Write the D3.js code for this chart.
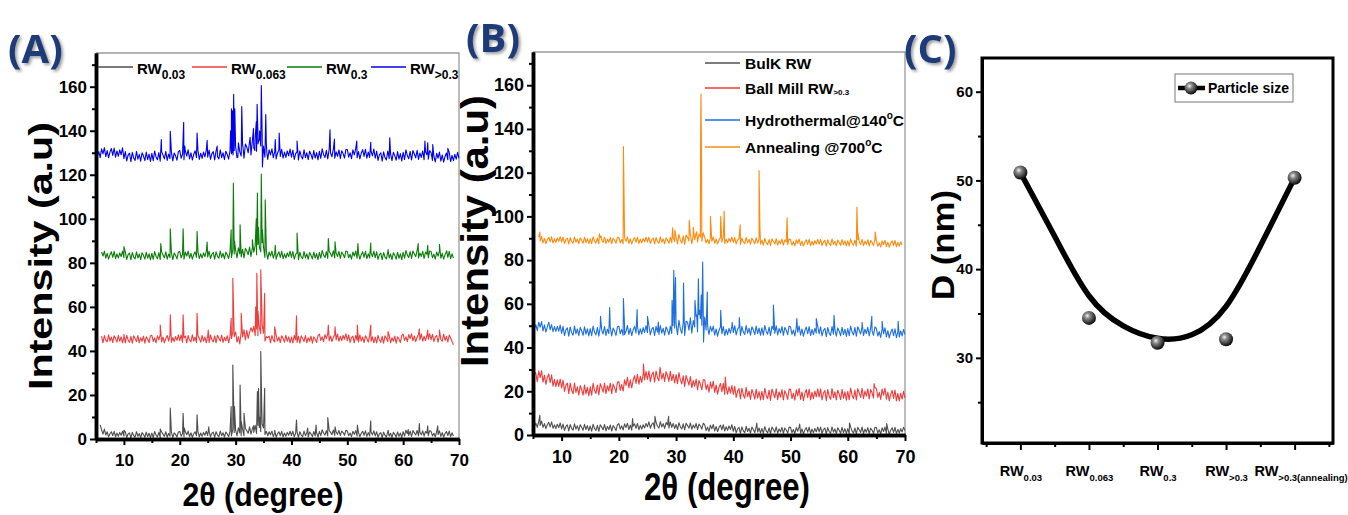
<!DOCTYPE html>
<html>
<head>
<meta charset="utf-8">
<script src="https://cdn.jsdelivr.net/npm/d3@7"></script>
<style>
body { margin: 0; background: #fff; }
svg { display: block; font-family: "Liberation Sans", Arial, sans-serif; font-weight: bold; }
</style>
</head>
<body>
<svg id="chart" width="1348" height="515"></svg>
<script>
// 2-theta grid for the baseline arrays (5 .. 70 deg, every 0.25 deg, one row = 5 deg)
const twoTheta = d3.range(5, 70.001, 0.25);

// ---------- panel (A) : sieved fractions ----------
const rw003Base = [
  null,null,null,6.4,4.2,2.2,4.5,1.8,3.3,1,2.4,3.3,1.5,3.5,1,2.7,1.2,3,1.7,3.5,
  1.3,3.2,0.7,2.3,2.8,0.5,3,1.5,0.8,3.3,1.2,2.5,0.6,2.9,2,0.8,3.1,1.1,2.6,0.6,
  2.7,0.7,3.4,1.8,1,3,0.6,3.2,2.2,1.2,3.3,0.8,2.5,1.3,3.1,0.7,2.8,2.1,0.9,3.2,
  3.4,1.3,2.5,0.9,3.3,1.9,3.6,1.1,2.8,0.8,2.4,3.3,1.5,3.5,1,2.7,1.2,3,1.7,3.5,
  1.6,3.5,1,2.6,3.1,0.8,3.3,1.8,1.1,3.6,1.5,2.8,0.9,3.2,2.3,1.1,3.4,1.4,4.5,3,
  4,1.5,5.1,2.7,1.5,4.5,1.5,4.8,3.8,2.6,5.5,2.2,4.7,3,6.2,2.5,6.2,5.2,3.4,6.8,
  5,2,3.5,1.5,3.3,1.9,3.6,1.1,2.8,0.8,2.4,3.3,1.5,3.5,1,2.7,1.2,3,1.7,3.5,
  1.6,3.5,1,2.6,3.1,0.8,3.3,1.8,1.1,3.6,1.5,2.8,0.9,3.2,2.3,1.1,3.4,1.4,2.9,0.9,
  3.5,1.5,4.2,2.6,1.8,3.8,1.4,4,3,2,4.1,1.6,3.3,2.1,3.9,1.5,3.6,2.9,1.7,4,
  3.6,1.5,2.7,1.1,3.5,2.1,3.8,1.3,3,1,2.6,3.5,1.7,3.7,1.2,2.9,1.4,3.2,1.9,3.7,
  1.4,3.3,0.8,2.4,2.9,0.6,3.1,1.6,0.9,3.4,1.3,2.6,0.7,3,2.1,0.9,3.2,1.2,2.7,0.7,
  3.3,1.3,4,2.4,1.6,3.6,1.2,3.8,2.8,1.8,3.9,1.4,3.1,1.9,3.7,1.3,3.4,2.7,1.5,3.8,
  3.5,1.4,2.6,1,3.4,2,3.7,1.2,2.9,0.9,2.5,3.4,1.6,3.6,1.1,2.8,1.3,null,null,null,
  null];
const rw003Peaks = [[10,4],[16.5,4.5],[18.3,14],[20.6,11.7],[20.8,5],[23.1,11],[25.2,5.5],[29.2,14.7],[29.5,33.6],[29.8,14.7],
  [30.8,24.5],[31,8],[31.5,11.7],[33.2,6],[33.9,21.5],[34.1,23],[34.3,10],[34.5,39.7],[34.7,12],[35.2,23],[37,4],
  [40.9,8.6],[42.9,5],[44.4,6.3],[46.5,9.7],[47.8,5.5],[51.8,6.3],[54.2,8.3],[57.3,4],[60.9,4.3],[62.9,7],[64.4,6],[66.2,6]];

const rw0063Base = [
  null,null,null,null,46.7,43.7,47,44.9,44.1,47.3,44.5,46.3,43.8,46.9,45.7,44,47.1,44.4,46.4,43.7,
  46.3,43.6,47.1,45,43.9,46.6,43.5,46.9,45.6,44.3,47,43.7,46,44.4,46.7,43.5,46.4,45.4,43.8,46.9,
  47.1,44.3,45.9,43.7,46.9,45.1,47.3,44.1,46.3,43.7,45.7,47,44.5,47.2,43.9,46.1,44.2,46.5,44.8,47.3,
  44.7,47.3,43.9,46,46.7,43.7,47,44.9,44.1,47.3,44.5,46.3,43.8,46.9,45.7,44,47.1,44.4,46.4,43.7,
  46.5,43.8,47.3,45.2,44.1,46.8,43.7,47.1,45.8,44.5,47.2,43.9,46.2,44.6,46.9,43.7,46.6,45.6,48.5,46.5,
  48.6,44,46.5,43.2,48.8,46.3,49.6,45,49.3,45.7,48.4,50.5,48.7,51.2,46.9,50,46.9,50.7,47.8,51.9,
  48,44.5,46.5,46,46.7,43.7,47,44.9,44.1,47.3,44.5,46.3,43.8,46.9,45.7,44,47.1,44.4,46.4,43.7,
  46.3,43.6,47.1,45,43.9,46.6,43.5,46.9,45.6,44.3,47,43.7,46,44.4,46.7,43.5,46.4,45.4,43.8,46.9,
  47.6,44.8,46.4,44.2,47.4,45.6,47.8,44.6,46.8,44.2,46.2,47.5,45,47.7,44.4,46.6,44.7,47,45.3,47.8,
  44.7,47.3,43.9,46,46.7,43.7,47,44.9,44.1,47.3,44.5,46.3,43.8,46.9,45.7,44,47.1,44.4,46.4,43.7,
  46.3,43.6,47.1,45,43.9,46.6,43.5,46.9,45.6,44.3,47,43.7,46,44.4,46.7,43.5,46.4,45.4,43.8,46.9,
  47.6,44.8,46.4,44.2,47.4,45.6,47.8,44.6,46.8,44.2,46.2,47.5,45,47.7,44.4,46.6,44.7,47,45.3,47.8,
  45,47.6,44.2,46.3,47,44,47.3,45.2,44.4,47.6,44.8,46.6,44.1,47.2,46,44.3,42.8,null,null,null,
  null];
const rw0063Peaks = [[10,47.5],[16.5,51.8],[18.3,56.4],[20.6,56.4],[23.1,57.1],[25.1,49.5],[29.2,54.8],[29.5,73],[29.7,52],
  [31,57.1],[33.1,49.5],[33.6,60],[33.8,75.3],[34,58],[34.5,76.8],[34.7,58],[35.2,66.2],[37,51],[40.9,55.9],
  [46.6,51.8],[47.8,51],[51.8,51.8],[54.2,51.8],[57.3,48.8],[62.9,50],[64.4,49.5],[66.5,49.5]];

const rw03Base = [
  null,null,null,null,84.9,83.1,85.3,82.1,84.3,81.7,83.7,85,82.5,85.2,81.9,84.1,82.2,84.5,82.8,85.3,
  82.4,85,81.6,83.7,84.4,81.4,84.7,82.6,81.8,85,82.2,84,81.5,84.6,83.4,81.7,84.8,82.1,84.1,81.4,
  84.3,81.6,85.1,83,81.9,84.6,81.5,84.9,83.6,82.3,85,81.7,84,82.4,84.7,81.5,84.4,83.4,81.8,84.9,
  85.1,82.3,83.9,81.7,84.9,83.1,85.3,82.1,84.3,81.7,83.7,85,82.5,85.2,81.9,84.1,82.2,84.5,82.8,85.3,
  82.7,85.3,81.9,84,84.7,81.7,85,82.9,82.1,85.3,82.5,84.3,81.8,84.9,83.7,82,85.1,82.4,86,84,
  85.8,82.3,86.8,84.1,82.7,86.2,82.2,86.6,85.4,83.7,87.2,82.9,86.9,84.8,87.8,83.7,88.4,87.1,85,89.1,
  87,82.5,85.5,81.7,84.9,83.1,85.3,82.1,84.3,81.7,83.7,85,82.5,85.2,81.9,84.1,82.2,84.5,82.8,85.3,
  82.5,85.1,81.7,83.8,84.5,81.5,84.8,82.7,81.9,85.1,82.3,84.1,81.6,84.7,83.5,81.8,84.9,82.2,84.2,81.5,
  84.8,82.1,85.6,83.5,82.4,85.1,82,85.4,84.1,82.8,85.5,82.2,84.5,82.9,85.2,82,84.9,83.9,82.3,85.4,
  85.1,82.3,83.9,81.7,84.9,83.1,85.3,82.1,84.3,81.7,83.7,85,82.5,85.2,81.9,84.1,82.2,84.5,82.8,85.3,
  82.4,85,81.6,83.7,84.4,81.4,84.7,82.6,81.8,85,82.2,84,81.5,84.6,83.4,81.7,84.8,82.1,84.1,81.4,
  84.8,82.1,85.6,83.5,82.4,85.1,82,85.4,84.1,82.8,85.5,82.2,84.5,82.9,85.2,82,84.9,83.9,82.3,85.4,
  85.1,82.3,83.9,81.7,84.9,83.1,85.3,82.1,84.3,81.7,83.7,85,82.5,85.2,81.9,84.1,82.2,null,null,null,
  null];
const rw03Peaks = [[10,87.4],[16.6,88.8],[18.3,95.5],[20.6,95.5],[23.1,94.2],[24.9,89.4],[29.2,95],[29.6,116.2],[29.8,90],
  [30.8,97.3],[33,90.5],[33.7,100],[33.9,111.7],[34.1,96],[34.6,120.3],[34.8,95],[35.3,108.6],[37.1,88],[41,93.5],
  [46.6,91],[47.8,89.6],[51.9,88.8],[54.2,89],[57.3,86],[62.7,88.8],[64.4,88],[66.5,88.4],[67.8,85.5]];

const rwGt03Base = [
  125,128.5,130.5,127.8,131.8,129.5,132.3,128.2,131,127.7,130.3,131.9,128.8,132.1,128,130.8,128.4,131.3,129.1,132.2,
  127.3,130.5,126.3,128.9,129.8,126,130.2,127.6,126.5,130.6,127.1,129.3,126.2,130,128.5,126.4,130.3,126.9,129.4,126.1,
  129.7,126.4,130.8,128.1,126.8,130.1,126.2,130.5,128.9,127.2,130.6,126.5,129.4,127.4,130.3,126.3,129.9,128.6,126.6,130.5,
  131,127.5,129.5,126.8,130.8,128.5,131.3,127.2,130,126.7,129.3,130.9,127.8,131.1,127,129.8,127.4,130.3,128.1,131.2,
  128,131.2,127,129.6,130.5,126.7,130.9,128.3,127.2,131.3,127.8,130,126.9,130.7,129.2,127.1,131,129.6,135,132,
  132.8,127.8,134.5,130.4,128.5,133.4,127.5,134,132.6,130,135.2,129,135.4,132.3,136.7,130.7,138.1,136.2,133.1,139,
  133,128,134,127,131.3,129,131.8,127.7,130.5,127.2,129.8,131.4,128.3,131.6,127.5,130.3,127.9,130.8,128.6,131.7,
  128,131.2,127,129.6,130.5,126.7,130.9,128.3,127.2,131.3,127.8,130,126.9,130.7,129.2,127.1,131,127.6,130.1,126.8,
  130.7,127.4,131.8,129.1,127.8,131.1,127.2,131.5,129.9,128.2,131.6,127.5,130.4,128.4,131.3,127.3,130.9,129.6,127.6,131.5,
  131.5,128,130,127.3,131.3,129,131.8,127.7,130.5,127.2,129.8,131.4,128.3,131.6,127.5,130.3,127.9,130.8,128.6,131.7,
  127.5,130.7,126.5,129.1,130,126.2,130.4,127.8,126.7,130.8,127.3,129.5,126.4,130.2,128.7,126.6,130.5,127.1,129.6,126.3,
  130.2,126.9,131.3,128.6,127.3,130.6,126.7,131,129.4,127.7,131.1,127,129.9,127.9,130.8,126.8,130.4,129.1,127.1,131,
  130,126.5,128.5,125.8,129.8,127.5,130.3,126.2,129,125.7,128.3,129.9,126.8,130.1,126,128.8,126.4,129.3,127.1,130.2,
  127.5];
const rwGt03Peaks = [[16.7,136],[18.3,139.7],[20.7,143.8],[20.9,133],[23.1,139],[24.9,135.6],[26.7,133],
  [29.1,140],[29.25,150],[29.35,130],[29.45,149],[29.55,129],[29.65,156.5],[29.75,131],[29.85,150],[30.4,128],
  [31.1,151],[31.3,133],[32.6,137],[33.2,141],[33.45,131],[33.7,144],[33.85,152],[34,134],[34.3,140],[34.6,160.5],
  [34.8,123.5],[35.4,147.3],[35.6,130],[37.1,136],[37.8,139],[41,135.3],[46.9,140.4],[47.7,136.2],[51.7,135.3],
  [54.2,134.8],[57.6,136.8],[63.9,135.3],[64.4,134.5],[65.3,133.7],[68,132]];

// ---------- panel (B) : processing steps ----------
const bulkBase = [
  8,3.9,5.4,3.5,6.1,4.4,6.4,3.5,5.2,2.9,4.7,5.8,3.7,6,3.1,4.6,2.9,4.9,3.4,5.5,
  2.8,5,2.1,3.9,4.6,1.9,4.8,3,2.2,5.1,2.7,4.2,2,4.7,3.6,2.2,4.9,2.5,4.3,2,
  4.1,1.8,4.9,3,2.1,4.4,1.7,4.7,3.6,2.4,4.8,1.9,3.9,2.5,4.6,1.8,4.3,3.4,2,4.7,
  5.2,2.7,4.2,2.3,5.1,3.4,5.4,2.5,4.5,2.2,4,5.1,3,5.3,2.4,4.4,2.7,4.7,3.2,5.3,
  3.8,6,3.1,4.9,5.6,2.9,5.8,4,3.2,6.1,3.7,5.2,3,5.7,4.6,3.2,5.9,3.5,5.3,3,
  4.8,2.5,5.6,3.7,2.8,5.1,2.4,5.4,4.3,3.1,5.5,2.6,4.6,3.2,5.3,2.5,5,4.1,2.7,5.4,
  4.6,2.1,3.6,1.7,4.5,2.8,4.8,1.9,3.9,1.6,3.4,4.5,2.4,4.7,1.8,3.8,2.1,4.1,2.6,4.7,
  1.7,3.9,1,2.8,3.5,0.8,3.7,1.9,1.1,4,1.6,3.1,0.9,3.6,2.5,1.1,3.8,1.4,3.2,0.9,
  3,0.7,3.8,1.9,1,3.3,0.6,3.6,2.5,1.3,3.7,0.8,2.8,1.4,3.5,0.7,3.2,2.3,0.9,3.6,
  3.5,1,2.5,0.6,3.4,1.7,3.7,0.8,2.8,0.5,2.3,3.4,1.3,3.6,0.7,2.7,1,3,1.5,3.6,
  1.4,3.6,0.7,2.5,3.2,0.5,3.4,1.6,0.8,3.7,1.3,2.8,0.6,3.3,2.2,0.8,3.5,1.1,2.9,0.6,
  2.9,0.6,3.7,1.8,0.9,3.2,0.5,3.5,2.4,1.2,3.6,0.7,2.7,1.3,3.4,0.6,3.1,2.2,0.8,3.5,
  3.4,0.9,2.4,0.5,3.3,1.6,3.6,0.7,2.7,0.4,2.2,3.3,1.2,3.5,0.6,2.6,0.9,2.9,1.4,3.5,
  2];
const bulkPeaks = [[6.2,9],[22.4,7.5],[26.3,8.5],[28.7,8.5],[44.1,5.5],[51.6,5],[60.3,5.5],[66.8,5.2]];

const ballMillBase = [
  35,29,28.1,24.4,29.2,26.2,29.4,24.2,27.4,23.2,26.2,27.9,23.9,27.5,22.3,25.4,22.1,25.2,22.2,25.6,
  21.5,25.1,19.9,22.8,23.7,18.9,23.8,20.5,18.9,23.8,19.5,22,18.2,22.6,20.7,18.2,22.9,18.8,21.8,17.9,
  22,18.2,23.6,20.4,19,22.9,18.3,23.5,21.7,19.6,23.8,18.9,22.5,20.1,23.7,18.9,23.3,21.7,19.4,24.2,
  24.4,20.4,23.1,20.1,25.2,22.7,26.4,21.6,25.2,21.5,25,27.1,23.6,27.8,23.2,26.8,24.1,27.8,25.2,29.1,
  25.4,29.3,24.4,27.6,28.8,24.2,29.3,26.2,24.8,29.8,25.6,28.2,24.5,29,27.1,24.5,29.1,24.9,27.8,23.8,
  27.6,23.5,28.6,25.1,23.4,27.1,22.2,27.2,25.1,22.8,26.7,21.6,24.9,22.3,25.6,20.7,24.9,23.2,20.7,25.3,
  25.2,20.8,23,19.6,24.2,21.3,24.6,19.5,22.8,18.7,21.8,23.6,19.8,23.6,18.6,21.8,18.7,22,19.1,22.6,
  18.6,22.3,17.2,20.2,21.2,16.5,21.5,18.3,16.8,21.8,17.5,20.1,16.3,20.8,18.9,16.4,21,16.9,19.9,16,
  20,16.1,21.4,18.1,16.6,20.5,15.8,21,19.1,17,21.1,16.2,19.7,17.3,20.8,16,20.3,18.7,16.3,21,
  20.9,16.7,19.1,15.9,20.7,17.9,21.3,16.3,19.7,15.7,18.9,20.8,17.1,21,16.1,19.5,16.6,20.1,17.4,21.1,
  17.3,21.1,16.1,19.2,20.3,15.7,20.8,17.7,16.3,21.3,17.1,19.7,16,20.5,18.7,16.2,20.9,16.8,19.8,15.9,
  20,16.1,21.5,18.2,16.7,20.6,16,21.2,19.3,17.2,21.4,16.6,20.1,17.8,21.1,16.5,20.8,19.3,16.9,21.6,
  21.4,17.2,19.5,16.3,21,18.2,21.4,16.4,19.6,15.6,18.6,20.4,16.7,20.6,15.6,19,15.6,19.1,16.4,20,
  17];
const ballMillPeaks = [[24.3,32.5],[27.2,31],[38.6,26.5],[64.6,23.5]];

const hydroBase = [
  52,48.4,50.4,47.7,51.6,49.3,51.9,47.6,50.4,47.1,49.5,51.6,48.2,50.5,47.3,49.6,47.4,49.7,47.5,50.3,
  46.5,49.7,45.5,48.1,49,45.2,49.4,46.8,45.7,49.8,46.3,48.5,45.4,49.2,47.7,45.6,49.5,46.1,48.6,45.3,
  48.7,45.4,49.8,47.1,45.8,49.1,45.2,49.5,47.9,46.2,49.6,45.5,48.4,46.4,49.3,45.3,48.9,47.6,45.6,49.5,
  49.8,46.3,48.3,45.6,49.6,47.3,50.1,46,48.8,45.5,48.1,49.7,46.6,49.9,45.8,48.6,46.2,49.1,46.9,50,
  46.8,50,45.8,48.4,49.3,45.5,49.7,47.1,46,50.1,46.6,48.8,45.7,49.5,48,45.9,49.8,46.4,52,49,
  50.8,45.9,52.5,48.4,46.5,51.4,45.5,52,51.6,48,53.6,46.6,52.4,49.4,54.2,47.2,55.1,53.2,50.2,56,
  54,48,51,46,49.7,47.4,49.8,45.7,48.5,45.2,47.8,49.4,46.3,49.6,45.5,48.3,45.9,48.8,46.6,49.7,
  46.8,50,45.8,48.4,49.3,45.5,49.7,47.1,46,50.1,46.6,48.8,45.7,49.5,48,45.9,49.8,46.4,48.9,45.6,
  49,45.7,50.1,47.4,46.1,49.4,45.5,49.8,48.2,46.5,49.9,45.8,48.7,46.7,49.6,45.6,49.2,47.9,45.9,49.8,
  49.5,46,48,45.3,49.3,47,49.8,45.7,48.5,45.2,47.8,49.4,46.3,49.6,45.5,48.3,45.9,48.8,46.6,49.7,
  46.3,49.5,45.3,47.9,48.8,45,49.2,46.6,45.5,49.6,46.1,48.3,45.2,49,47.5,45.4,49.3,45.9,48.4,45.1,
  48.7,45.4,49.8,47.1,45.8,49.1,45.2,49.5,47.9,46.2,49.6,45.5,48.4,46.4,49.3,45.3,48.9,47.6,45.6,49.5,
  48.8,45.3,47.3,44.6,48.6,46.3,49,44.9,47.7,44.4,46.9,48.5,45.4,48.6,44.5,47.2,44.8,47.6,45.3,48.3,
  46];
const hydroPeaks = [[16.8,54.3],[18.4,58.3],[20.8,62.4],[21,46],[23.2,57.4],[25,54.3],[26.9,51.7],[29.3,61.6],[29.45,50],
  [29.6,75.3],[29.75,52],[29.9,72],[31.3,69.5],[31.45,50],[33.3,61.6],[33.6,55],[33.9,71.5],[34.1,57],[34.4,64],
  [34.65,79.1],[34.8,42.6],[35.45,65.4],[35.6,48],[37.8,57],[39.8,51.5],[41.05,53.7],[47,59.4],[47.2,50],[51.1,53.3],
  [54.5,53.3],[57.6,54.8],[62.5,51.5],[64.2,54.3],[66,52],[68.8,52]];

const annealBase = [
  null,null,null,null,90.5,88.8,90.8,87.9,89.9,87.6,89.4,90.5,88.4,90.7,87.8,89.8,88.1,90.1,88.6,90.7,
  88.3,90.5,87.6,89.4,90.1,87.4,90.3,88.5,87.7,90.6,88.2,89.7,87.5,90.2,89.1,87.7,90.4,88,89.8,87.5,
  89.8,87.5,90.6,88.7,87.8,90.1,87.4,90.4,89.3,88.1,90.5,87.6,89.6,88.2,90.3,87.5,90,89.1,87.7,90.4,
  90.4,87.9,89.4,87.5,90.3,88.6,90.6,87.7,89.7,87.4,89.2,90.3,88.2,90.5,87.6,89.6,87.9,89.9,88.4,90.5,
  88.3,90.5,87.6,89.4,90.1,87.4,90.3,88.5,87.7,90.6,88.2,89.7,87.5,90.2,89.1,87.7,90.4,88,90.5,88.5,
  90.7,87.4,91.8,89.1,87.8,91.1,87.2,91.5,90.4,88.7,91.6,87.5,91.4,89.4,92.3,88.3,91.9,90.6,88.6,92.5,
  90.4,87.9,89.4,87.5,90.3,88.6,90.6,87.7,89.7,87.4,89.2,90.3,88.2,90.5,87.6,89.6,87.9,89.9,88.4,90.5,
  88.1,90.3,87.4,89.2,89.9,87.2,90.1,88.3,87.5,90.4,88,89.5,87.3,90,88.9,87.5,90.2,87.8,89.6,87.3,
  89.1,86.8,89.9,88,87.1,89.4,86.7,89.7,88.6,87.4,89.8,86.9,88.9,87.5,89.6,86.8,89.3,88.4,87,89.7,
  89.4,86.9,88.4,86.5,89.3,87.6,89.6,86.7,88.7,86.4,88.2,89.3,87.2,89.5,86.6,88.6,86.9,88.9,87.4,89.5,
  87.3,89.5,86.6,88.4,89.1,86.4,89.3,87.5,86.7,89.6,87.2,88.7,86.5,89.2,88.1,86.7,89.4,87,88.8,86.5,
  88.8,86.5,89.6,87.7,86.8,89.1,86.4,89.4,88.3,87.1,89.5,86.6,88.6,87.2,89.3,86.5,89,88.1,86.7,89.4,
  88.9,86.4,87.9,86,88.8,87.1,89.1,86.2,88.2,85.9,87.7,88.8,86.7,89,86.1,88.1,86.4,88.4,86.9,null,
  null];
const annealPeaks = [[6.2,92.8],[16.6,92],[16.9,91],[20.8,132],[29.4,94.8],[29.8,93.6],[32.3,98.2],[32.5,92],[33,95],
  [33.6,93],[34.3,140],[34.35,156],[34.45,125],[36,100],[37.8,100],[38.4,102.4],[41.2,96.2],[44.5,121],[44.65,95],
  [49.4,99.4],[61.6,104.3],[61.75,93],[64.8,92.8]];

// ---------- panel (C) : particle size ----------
const sampleNames = [["RW", "0.03"], ["RW", "0.063"], ["RW", "0.3"], ["RW", ">0.3"], ["RW", ">0.3(annealing)"]];
const particleSize = [50.9, 34.5, 31.7, 32.1, 50.3];
// smooth fit
const fitPos = [0, 0.5, 1, 1.5, 2, 2.5, 3, 3.5, 4];
const fitSize = [50.9, 43.7, 37.0, 33.6, 32.2, 32.6, 35.8, 42.6, 50.3];

const xrdTicks = [10, 20, 30, 40, 50, 60, 70];
const xrdMinor = [5, 15, 25, 35, 45, 55, 65];
const intTicks = [0, 20, 40, 60, 80, 100, 120, 140, 160];
const intMinor = [10, 30, 50, 70, 90, 110, 130, 150, 170];

const svg = d3.select("#chart");

const defs = svg.append("defs");
const grad = defs.append("radialGradient").attr("id", "ball").attr("cx", "38%").attr("cy", "35%").attr("r", "65%");
grad.append("stop").attr("offset", "0%").attr("stop-color", "#f4f4f4");
grad.append("stop").attr("offset", "30%").attr("stop-color", "#8a8a8a");
grad.append("stop").attr("offset", "100%").attr("stop-color", "#0a0a0a");
defs.append("filter").attr("id", "shadow").attr("x", "-20%").attr("y", "-20%").attr("width", "150%").attr("height", "150%")
  .append("feDropShadow").attr("dx", 2).attr("dy", 2).attr("stdDeviation", 1.5).attr("flood-color", "#777").attr("flood-opacity", 0.7);

function merge(base, peaks) {
  const pts = [];
  base.forEach((v, i) => { if (v != null) pts.push([twoTheta[i], v]); });
  peaks.forEach(p => pts.push(p));
  return pts.sort((a, b) => a[0] - b[0]);
}

function axisStyle(g, fs, lw) {
  g.select(".domain").attr("stroke", "#000").attr("stroke-width", lw || 3.5);
  g.selectAll(".tick line").attr("stroke", "#000").attr("stroke-width", 2);
  g.selectAll(".tick text").attr("fill", "#000").attr("font-size", fs || 17).attr("font-weight", "bold")
    .attr("font-family", '"Liberation Sans", Arial, sans-serif');
}

function panelLabel(txt, x, y) {
  svg.append("text").attr("x", x).attr("y", y).text(txt)
    .attr("font-family", '"Open Sans", "Liberation Sans", Arial, sans-serif')
    .attr("font-size", 40).attr("font-weight", "bold").attr("fill", "#1d3a78").attr("filter", "url(#shadow)");
}

function subText(g, x, y, main, sub, fs, sfs, anchor) {
  const t = g.append("text").attr("x", x).attr("y", y).attr("font-size", fs).attr("text-anchor", anchor || "start");
  t.append("tspan").text(main);
  t.append("tspan").text(sub).attr("font-size", sfs).attr("dy", fs * 0.3);
  return t;
}

function xrdPanel(p) {
  const x = d3.scaleLinear().domain([5, 70]).range([p.left, p.right]);
  const y = d3.scaleLinear().domain([0, p.yMax]).range([p.bottom, p.top]);
  const g = svg.append("g");

  g.append("path").attr("d", `M${p.left},${p.top}H${p.right}V${p.bottom}`)
    .attr("fill", "none").attr("stroke", "#9a9a9a").attr("stroke-width", 1.3);

  const line = d3.line().x(d => x(d[0])).y(d => y(d[1]));
  p.series.forEach(s => {
    g.append("path").datum(s.points).attr("d", line)
      .attr("fill", "none").attr("stroke", s.color).attr("stroke-width", 1.1).attr("stroke-linejoin", "round");
  });

  g.append("g").attr("transform", `translate(0,${p.bottom})`)
    .call(d3.axisBottom(x).tickValues(xrdMinor).tickSize(4).tickSizeOuter(0).tickFormat(""))
    .call(axisStyle);
  g.append("g").attr("transform", `translate(0,${p.bottom})`)
    .call(d3.axisBottom(x).tickValues(xrdTicks).tickSize(6).tickSizeOuter(0).tickPadding(9))
    .call(axisStyle, p.tickFs);
  g.append("g").attr("transform", `translate(${p.left},0)`)
    .call(d3.axisLeft(y).tickValues(intMinor.filter(v => v < p.yMax)).tickSize(4).tickSizeOuter(0).tickFormat(""))
    .call(axisStyle);
  g.append("g").attr("transform", `translate(${p.left},0)`)
    .call(d3.axisLeft(y).tickValues(intTicks).tickSize(6).tickSizeOuter(0).tickPadding(3))
    .call(axisStyle, p.tickFs);

  g.append("text").text("Intensity (a.u)")
    .attr("transform", `translate(${p.yTitleX},${p.yTitleY}) rotate(-90)`)
    .attr("text-anchor", "middle")
    .attr("font-size", p.yTitleFs).attr("textLength", p.yTitleLen).attr("lengthAdjust", "spacingAndGlyphs");
  g.append("text").text("2\u03b8 (degree)")
    .attr("x", p.xTitleX).attr("y", p.xTitleY).attr("text-anchor", "middle")
    .attr("font-size", p.xTitleFs).attr("textLength", p.xTitleLen).attr("lengthAdjust", "spacingAndGlyphs");
  return g;
}

// ---- (A)
const seriesA = [
  { points: merge(rw003Base, rw003Peaks), color: "#4d4d4d" },
  { points: merge(rw0063Base, rw0063Peaks), color: "#f03c3c" },
  { points: merge(rw03Base, rw03Peaks), color: "#0a7d0a" },
  { points: merge(rwGt03Base, rwGt03Peaks), color: "#0000f0" }
];
const gA = xrdPanel({ left: 96, right: 459, top: 53, bottom: 439, yMax: 175.3, series: seriesA, tickFs: 17,
  yTitleX: 52, yTitleY: 256, yTitleFs: 34, yTitleLen: 268, xTitleX: 263, xTitleY: 506, xTitleFs: 34, xTitleLen: 161 });

const legA = [["RW", "0.03"], ["RW", "0.063"], ["RW", "0.3"], ["RW", ">0.3"]];
const legAx = [98, 192, 287, 371];
legA.forEach((d, i) => {
  gA.append("line").attr("x1", legAx[i]).attr("x2", legAx[i] + 35).attr("y1", 67).attr("y2", 67)
    .attr("stroke", seriesA[i].color).attr("stroke-width", 1.4);
  subText(gA, legAx[i] + 39, 74, d[0], d[1], 15, 12);
});
panelLabel("(A)", 8, 63);

// ---- (B)
const seriesB = [
  { points: merge(bulkBase, bulkPeaks), color: "#505050", name: "BulK RW" },
  { points: merge(ballMillBase, ballMillPeaks), color: "#f23a3a", name: "Ball Mill RW" },
  { points: merge(hydroBase, hydroPeaks), color: "#1c6fe0", name: "Hydrothermal@140" },
  { points: merge(annealBase, annealPeaks), color: "#ff8a0c", name: "Annealing @700" }
];
const gB = xrdPanel({ left: 533, right: 905, top: 52, bottom: 435, yMax: 175.2, series: seriesB, tickFs: 18,
  yTitleX: 488, yTitleY: 231, yTitleFs: 38, yTitleLen: 272, xTitleX: 727, xTitleY: 500, xTitleFs: 38, xTitleLen: 166 });

const legBy = [63, 88, 120, 147];
seriesB.forEach((s, i) => {
  gB.append("line").attr("x1", 705).attr("x2", 740).attr("y1", legBy[i]).attr("y2", legBy[i])
    .attr("stroke", s.color).attr("stroke-width", 1.6);
  const t = gB.append("text").attr("x", 745).attr("y", legBy[i] + 6).attr("font-size", 15.5);
  t.append("tspan").text(s.name);
  if (i === 1) t.append("tspan").text(">0.3").attr("font-size", 8).attr("dy", 1);
  if (i >= 2) {
    t.append("tspan").text("o").attr("font-size", 10).attr("dy", -7);
    t.append("tspan").text("C").attr("dy", 7);
  }
});
panelLabel("(B)", 466, 52);

// ---- (C)
const pc = { left: 982, right: 1333, top: 58, bottom: 443 };
const xc = d3.scaleLinear().domain([-0.56, 4.56]).range([pc.left, pc.right]);
const yc = d3.scaleLinear().domain([20.4, 63.8]).range([pc.bottom, pc.top]);
const gC = svg.append("g");

gC.append("g").attr("transform", `translate(0,${pc.bottom})`)
  .call(d3.axisBottom(xc).tickValues([-0.5, 0.5, 1.5, 2.5, 3.5, 4.5]).tickSize(4).tickSizeOuter(0).tickFormat(""))
  .call(axisStyle, 15, 3);
const xAxC = gC.append("g").attr("transform", `translate(0,${pc.bottom})`)
  .call(d3.axisBottom(xc).tickValues(d3.range(sampleNames.length)).tickSize(7).tickSizeOuter(0).tickFormat(""))
  .call(axisStyle, 15, 3);
xAxC.selectAll(".tick").each(function (d) {
  const t = d3.select(this).append("text").attr("y", 33).attr("x", d === 4 ? 6 : 0)
    .attr("text-anchor", "middle").attr("fill", "#000").attr("font-size", 14.5);
  t.append("tspan").text(sampleNames[d][0]);
  t.append("tspan").text(sampleNames[d][1]).attr("font-size", 9.5).attr("dy", 5);
});
gC.append("g").attr("transform", `translate(${pc.left},0)`)
  .call(d3.axisLeft(yc).tickValues([25, 35, 45, 55]).tickSize(4).tickSizeOuter(0).tickFormat(""))
  .call(axisStyle, 15, 3);
gC.append("g").attr("transform", `translate(${pc.left},0)`)
  .call(d3.axisLeft(yc).tickValues([30, 40, 50, 60]).tickSize(6).tickSizeOuter(0).tickPadding(3))
  .call(axisStyle, 15, 3);
gC.append("rect").attr("x", pc.left).attr("y", pc.top).attr("width", pc.right - pc.left).attr("height", pc.bottom - pc.top)
  .attr("fill", "none").attr("stroke", "#000").attr("stroke-width", 3);

const fitLine = d3.line().x((d, i) => xc(fitPos[i])).y(d => yc(d)).curve(d3.curveNatural);
gC.append("path").datum(fitSize).attr("d", fitLine).attr("fill", "none").attr("stroke", "#000").attr("stroke-width", 5.5);
gC.selectAll("circle.pt").data(particleSize).enter().append("circle").attr("class", "pt")
  .attr("cx", (d, i) => xc(i)).attr("cy", d => yc(d)).attr("r", 7).attr("fill", "url(#ball)");

gC.append("text").text("D (nm)")
  .attr("transform", "translate(954,245) rotate(-90)").attr("text-anchor", "middle")
  .attr("font-size", 31).attr("textLength", 110).attr("lengthAdjust", "spacingAndGlyphs");

gC.append("rect").attr("x", 1175).attr("y", 74).attr("width", 118).attr("height", 28)
  .attr("fill", "#fff").attr("stroke", "#777").attr("stroke-width", 1);
gC.append("line").attr("x1", 1178).attr("x2", 1205).attr("y1", 88).attr("y2", 88).attr("stroke", "#000").attr("stroke-width", 4.5);
gC.append("circle").attr("cx", 1191).attr("cy", 88).attr("r", 6.5).attr("fill", "url(#ball)");
gC.append("text").text("Particle size").attr("x", 1208).attr("y", 93).attr("font-size", 14);

panelLabel("(C)", 904, 63);
</script>
</body>
</html>
